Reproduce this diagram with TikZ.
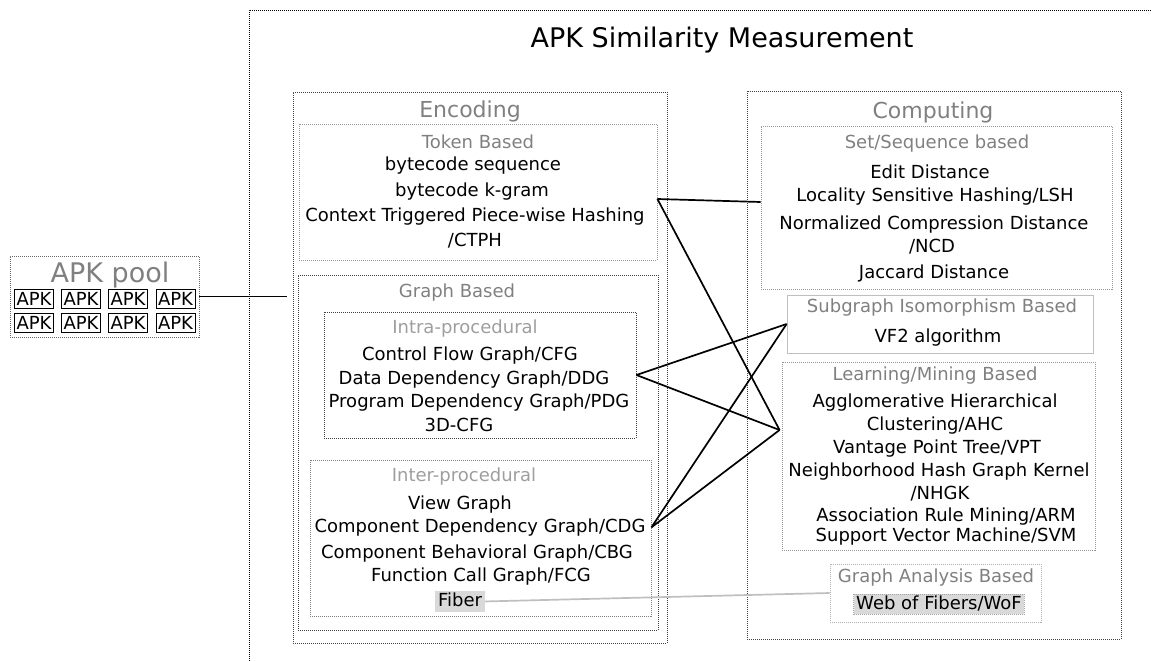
\documentclass[tikz,border=0pt]{standalone}
\usepackage{fontspec}
\setmainfont{DejaVu Sans}
\tikzset{
  cbox/.style={draw=#1, line width=0.85pt, dash pattern=on 1pt off 1pt, inner sep=0pt},
  hdr/.style={anchor=base, text=black!50, font=\fontsize{22}{26}\selectfont, inner sep=0pt},
  sublbl/.style={anchor=base, text=black!50, font=\fontsize{18}{22}\selectfont, inner sep=0pt},
  sublbllight/.style={sublbl, text=black!38},
  item/.style={anchor=base, text=black, font=\fontsize{18}{22}\selectfont, inner sep=0pt},
  hl/.style={item, fill=black!15, text height=14pt, text depth=3.5pt, inner xsep=3pt, inner ysep=1.5pt},
  apk/.style={draw, line width=0.9pt, minimum width=39, minimum height=19, inner sep=0pt,
              font=\fontsize{18}{20}\selectfont},
  link/.style={line width=1.7pt, black},
  softlink/.style={line width=1.7pt, black!25},
}
\begin{document}
\begin{tikzpicture}[x=1pt,y=-1pt]
\useasboundingbox (0,0) rectangle (1151,661);

% outer frame of the measurement stage
\draw[line width=0.85pt, dash pattern=on 1pt off 1pt] (249,661) |- (1151,10);
\node[anchor=base, font=\fontsize{27}{32}\selectfont, inner sep=0pt] (title) at (722,48) {APK Similarity Measurement};

% APK pool
\node[cbox=black!60, minimum width=189, minimum height=81] (pool) at (104.5,296.5) {};
\node[anchor=base, text=black!50, font=\fontsize{27}{32}\selectfont, inner sep=0pt] (pooltitle) at (110,282) {APK pool};
\node[apk] (a1) at (34,298.5) {APK};
\node[apk] (a2) at (81,298.5) {APK};
\node[apk] (a3) at (128,298.5) {APK};
\node[apk] (a4) at (175.5,298.5) {APK};
\node[apk] (a5) at (34,323) {APK};
\node[apk] (a6) at (81,323) {APK};
\node[apk] (a7) at (128,323) {APK};
\node[apk] (a8) at (175.5,323) {APK};

% Encoding column
\node[cbox=black!75, minimum width=374, minimum height=551] (enc) at (480,367.5) {};
\node[hdr] (enclbl) at (470,117) {Encoding};

\node[cbox=black!40, minimum width=358, minimum height=136] (tok) at (478,192) {};
\node[sublbl] (toklbl) at (478,148) {Token Based};
\node[item] (t1) at (473,170) {bytecode sequence};
\node[item] (t2) at (472,196.7) {bytecode k-gram};
\node[item] (t3) at (475,221.7) {Context Triggered Piece-wise Hashing};
\node[item] (t4) at (475,246.7) {/CTPH};

\node[cbox=black!75, minimum width=360, minimum height=355] (gb) at (478,452.5) {};
\node[sublbl] (gblbl) at (457,297) {Graph Based};

\node[cbox=black!75, minimum width=312, minimum height=126] (intra) at (480,375) {};
\node[sublbllight] (intralbl) at (465,333) {Intra-procedural};
\node[item] (cfg) at (470,360) {Control Flow Graph/CFG};
\node[item] (ddg) at (474,384) {Data Dependency Graph/DDG};
\node[item] (pdg) at (479,407.7) {Program Dependency Graph/PDG};
\node[item] (cfg3d) at (459,431) {3D-CFG};

\node[cbox=black!50, minimum width=341, minimum height=156] (inter) at (480.5,538) {};
\node[sublbllight] (interlbl) at (464,481.7) {Inter-procedural};
\node[item] (vg) at (460,509.3) {View Graph};
\node[item] (cdg) at (480,532.3) {Component Dependency Graph/CDG};
\node[item] (cbg) at (477,558.3) {Component Behavioral Graph/CBG};
\node[item] (fcg) at (481,581.7) {Function Call Graph/FCG};
\node[hl] (fiber) at (460,606.7) {Fiber};

% Computing column
\node[cbox=black!75, minimum width=374, minimum height=548] (comp) at (934,365) {};
\node[hdr] (complbl) at (933,118.3) {Computing};

\node[cbox=black!40, minimum width=351, minimum height=163] (setb) at (936.5,207.5) {};
\node[sublbl] (setlbl) at (937,148.3) {Set/Sequence based};
\node[item] (s1) at (930,178.3) {Edit Distance};
\node[item] (s2) at (935,201) {Locality Sensitive Hashing/LSH};
\node[item] (s3) at (934,229.3) {Normalized Compression Distance};
\node[item] (s4) at (932,252.7) {/NCD};
\node[item] (s5) at (934,278.3) {Jaccard Distance};

\node[draw=black!25, line width=0.8pt, inner sep=0pt, minimum width=306, minimum height=58] (sub) at (940,324) {};
\node[sublbl] (sublbl) at (942,312.7) {Subgraph Isomorphism Based};
\node[item] (vf2) at (938,342.7) {VF2 algorithm};

\node[cbox=black!40, minimum width=313, minimum height=188] (learn) at (938.5,456) {};
\node[sublbl] (learnlbl) at (935,380) {Learning/Mining Based};
\node[item] (l1) at (935,407.7) {Agglomerative Hierarchical};
\node[item] (l2) at (935,430) {Clustering/AHC};
\node[item] (l3) at (937,453.3) {Vantage Point Tree/VPT};
\node[item] (l4) at (939,476.7) {Neighborhood Hash Graph Kernel};
\node[item] (l5) at (940,499) {/NHGK};
\node[item] (l6) at (946,521) {Association Rule Mining/ARM};
\node[item] (l7) at (946,541) {Support Vector Machine/SVM};

\node[cbox=black!30, minimum width=211, minimum height=58] (gana) at (935.5,593) {};
\node[sublbl] (ganalbl) at (936,582.7) {Graph Analysis Based};
\node[hl, draw=black!35, dash pattern=on 1pt off 1pt, line width=0.6pt, inner xsep=2.5pt] (wof) at (939,609.3) {Web of Fibers/WoF};

% connection points
\coordinate (poolEnd) at ([xshift=-6pt]pool.east -| enc.west);
\coordinate (tokR) at ([yshift=-7pt]tok.east);
\coordinate (setL) at ([yshift=5.5pt]setb.west);
\coordinate (learnL) at ([xshift=-2pt,yshift=26pt]learn.west);
\coordinate (cdgR) at (inter.east |- cdg.east);

% connectors
\draw[link] (pool.east) -- (poolEnd);
\draw[link] (tokR) -- (setL);
\draw[link] (tokR) -- (learnL);
\draw[link] (intra.east) -- (sub.west);
\draw[link] (intra.east) -- (learnL);
\draw[link] (cdgR) -- (sub.west);
\draw[link] (cdgR) -- (learnL);
\draw[softlink] (fiber.east) -- (gana.west);
\end{tikzpicture}
\end{document}
